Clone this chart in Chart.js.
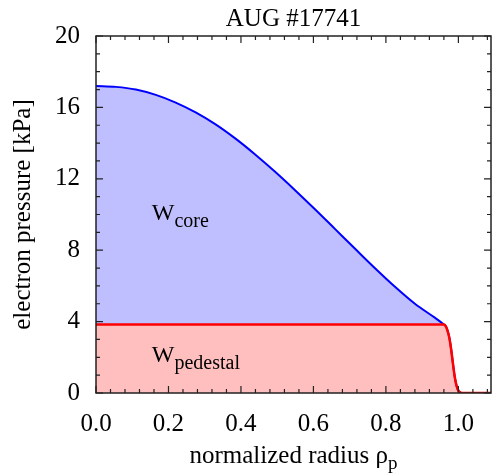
<!DOCTYPE html>
<html>
<head>
<meta charset="utf-8">
<script src="https://cdn.jsdelivr.net/npm/chart.js@4"></script>
<style>
  html, body { margin: 0; padding: 0; background: #fff; }
  #wrap { width: 492px; height: 475px; }
</style>
</head>
<body>
<div id="wrap"><canvas id="pressure-chart" width="492" height="475"></canvas></div>
<script>
// normalized radius rho_p
const radius = [0, 0.055, 0.11, 0.165, 0.22, 0.275, 0.33, 0.385, 0.44, 0.495, 0.55, 0.605, 0.66, 0.715, 0.77, 0.825, 0.88, 0.935, 0.96,
    0.965, 0.97, 0.975, 0.98, 0.985, 0.99, 0.995, 1.0, 1.005, 1.01, 1.09];
// total electron pressure [kPa]
const pressureTotal = [17.2, 17.15, 17.0, 16.7, 16.27, 15.72, 15.05, 14.25, 13.35, 12.38, 11.35, 10.28, 9.18, 8.08, 6.99, 5.95, 5.0, 4.22, 3.84,
    3.75, 3.5, 3.1, 2.45, 1.65, 0.9, 0.4, 0.13, 0.04, 0.0, 0.0];
// pedestal part: flat top, then the edge drop
const pressurePedestal = [3.84, 3.84, 3.84, 3.84, 3.84, 3.84, 3.84, 3.84, 3.84, 3.84, 3.84, 3.84, 3.84, 3.84, 3.84, 3.84, 3.84, 3.84, 3.84,
    3.75, 3.5, 3.1, 2.45, 1.65, 0.9, 0.4, 0.13, 0.04, 0.0, 0.0];

const xTicks = [0, 0.2, 0.4, 0.6, 0.8, 1.0];
const yTicks = [0, 4, 8, 12, 16, 20];

const serif = "'Liberation Serif', 'Times New Roman', serif";

function points(xs, ys) {
    return xs.map((x, i) => ({x: x, y: ys[i]}));
}

// box around the plot with inward ticks on all four sides, plus the text labels
const framePlugin = {
    id: "frame",
    afterDraw(chart) {
        const ctx = chart.ctx;
        const area = chart.chartArea;
        const xs = chart.scales.x;
        const ys = chart.scales.y;
        ctx.save();
        ctx.strokeStyle = "#222";
        ctx.lineWidth = 1.5;
        ctx.strokeRect(area.left, area.top, area.right - area.left, area.bottom - area.top);

        ctx.lineWidth = 1.2;
        ctx.beginPath();
        for (let v = 0; v <= xs.max + 1e-9; v += 0.04) {
            let len = xTicks.some(t => Math.abs(t - v) < 1e-6) ? 7 : 4;
            let px = xs.getPixelForValue(v);
            ctx.moveTo(px, area.bottom); ctx.lineTo(px, area.bottom - len);
            ctx.moveTo(px, area.top); ctx.lineTo(px, area.top + len);
        }
        for (let v = 0; v <= ys.max; v += 1) {
            let len = yTicks.includes(v) ? 7 : 4;
            let py = ys.getPixelForValue(v);
            ctx.moveTo(area.left, py); ctx.lineTo(area.left + len, py);
            ctx.moveTo(area.right, py); ctx.lineTo(area.right - len, py);
        }
        ctx.stroke();

        ctx.fillStyle = "#000";
        ctx.textBaseline = "alphabetic";
        function sub(main, low, x, y, size, subSize, drop, align) {
            ctx.font = size + "px " + serif;
            let w1 = ctx.measureText(main).width;
            ctx.font = subSize + "px " + serif;
            let w2 = ctx.measureText(low).width;
            let x0 = align === "center" ? x - (w1 + w2) / 2 : x;
            ctx.font = size + "px " + serif;
            ctx.fillText(main, x0, y);
            ctx.font = subSize + "px " + serif;
            ctx.fillText(low, x0 + w1, y + drop);
        }
        sub("W", "core", xs.getPixelForValue(0.154), ys.getPixelForValue(9.69), 24, 20, 7, "left");
        sub("W", "pedestal", xs.getPixelForValue(0.154), ys.getPixelForValue(1.72), 24, 20, 7, "left");
        sub("normalized radius ρ", "p", (area.left + area.right) / 2, 463, 25, 19, 6, "center");
        ctx.restore();
    }
};

new Chart("pressure-chart", {
    type: "line",
    data: {
        datasets: [
            {
                label: "pedestal",
                data: points(radius, pressurePedestal),
                borderColor: "#ff0000",
                borderWidth: 2.5,
                backgroundColor: "rgba(255,0,0,0.25)",
                fill: "origin",
                pointRadius: 0,
                cubicInterpolationMode: "monotone",
            },
            {
                label: "total",
                data: points(radius, pressureTotal),
                borderColor: "#0000ff",
                borderWidth: 2,
                backgroundColor: "rgba(0,0,255,0.25)",
                fill: 0,
                pointRadius: 0,
                cubicInterpolationMode: "monotone",
            },
        ]
    },
    options: {
        responsive: false,
        animation: false,
        layout: {padding: {right: 1, left: 0, top: 0, bottom: 0}},
        plugins: {
            legend: {display: false},
            tooltip: {enabled: false},
            title: {
                display: true,
                text: "AUG #17741",
                fullSize: false,
                color: "#000",
                font: {family: serif, size: 25, weight: "normal", lineHeight: 1.2},
                padding: {top: 4, bottom: 2},
            },
        },
        scales: {
            x: {
                type: "linear",
                min: 0,
                max: 1.09,
                grid: {display: false, drawTicks: false},
                border: {display: false},
                afterFit(scale) { scale.height = 82; },
                ticks: {
                    stepSize: 0.2,
                    includeBounds: false,
                    padding: 16,
                    color: "#000",
                    maxRotation: 0,
                    font: {family: serif, size: 25},
                    callback: v => v.toFixed(1),
                },
            },
            y: {
                min: 0,
                max: 20,
                grid: {display: false, drawTicks: false},
                border: {display: false},
                afterFit(scale) { scale.width = 96; },
                title: {
                    display: true,
                    text: "electron pressure [kPa]",
                    color: "#000",
                    font: {family: serif, size: 25},
                    padding: {top: 8, bottom: 0},
                },
                ticks: {
                    stepSize: 4,
                    padding: 16,
                    color: "#000",
                    font: {family: serif, size: 25},
                },
            },
        },
    },
    plugins: [framePlugin],
});
</script>
</body>
</html>
